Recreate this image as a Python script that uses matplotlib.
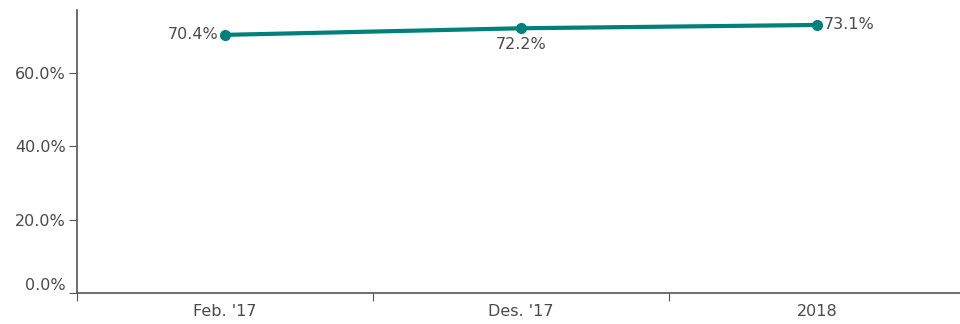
import matplotlib
matplotlib.use("Agg")
import matplotlib.pyplot as plt
from matplotlib.transforms import ScaledTranslation

categories = ["Feb. '17", "Des. '17", "2018"]
values = [70.4, 72.2, 73.1]
yticks = [0, 20, 40, 60]

W, H = 960, 324
fig = plt.figure(figsize=(W/100, H/100), dpi=100)
left, right, bottom, top = 77, 965, 293, 10
ax = fig.add_axes([left/W, (H-bottom)/H, (right-left)/W, (bottom-top)/H])

color = "#00807a"
tc = "#4a4a4a"
fs = 11.5
xs = [i + 0.5 for i in range(len(categories))]
ax.plot(xs, values, color=color, lw=3.0, marker="o", ms=7, solid_capstyle="round")
ax.set_xlim(0, len(categories))
ax.set_ylim(0, (bottom-top)/(220/60))

ax.set_xticks(range(len(categories)+1))
ax.set_xticklabels([])
ax.set_xticks(xs, minor=True)
ax.set_xticklabels(categories, minor=True)
ax.tick_params(axis="x", which="minor", length=0, pad=8, labelsize=fs, labelcolor=tc)
ax.tick_params(axis="x", which="major", length=6, color="#555555")
ax.set_yticks(yticks)
ax.set_yticklabels([f"{v:.1f}%" for v in yticks])
ax.tick_params(axis="y", length=6, color="#555555", labelsize=fs, labelcolor=tc, pad=2)

# the 0.0% label sits slightly above its tick in the reference
lbl0 = ax.get_yticklabels()[0]
lbl0.set_transform(lbl0.get_transform() + ScaledTranslation(0, 9/100, fig.dpi_scale_trans))

for s in ["top", "right"]:
    ax.spines[s].set_visible(False)
for s in ["left", "bottom"]:
    ax.spines[s].set_color("#555555")
    ax.spines[s].set_linewidth(1.2)

offsets = [(-5, 0, "right", "center"), (0, -6, "center", "top"), (5, 0, "left", "center")]
for x, v, (dx, dy, ha, va) in zip(xs, values, offsets):
    ax.annotate(f"{v:.1f}%", (x, v), xytext=(dx, dy), textcoords="offset points",
                ha=ha, va=va, fontsize=fs, color=tc)

fig.savefig("out.png", dpi=100)
